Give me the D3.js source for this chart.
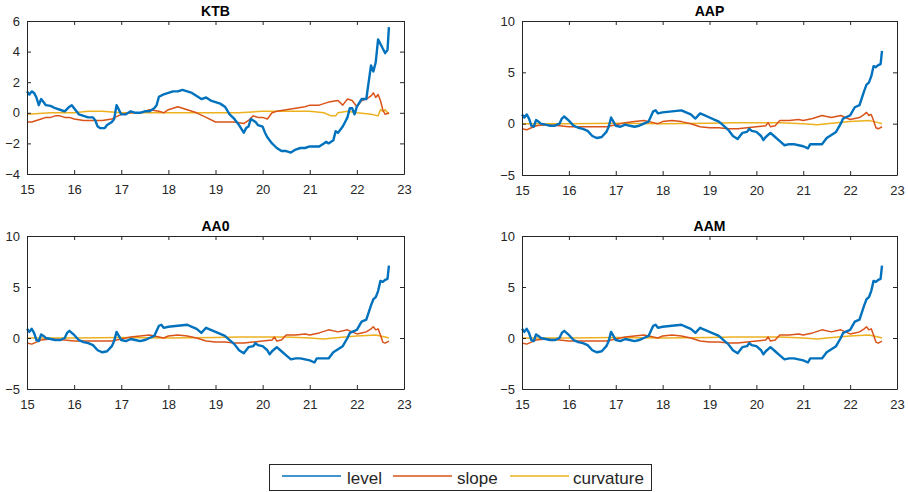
<!DOCTYPE html>
<html><head><meta charset="utf-8">
<script src="https://cdn.jsdelivr.net/npm/d3@7"></script>
<style>body{margin:0;background:#fff}svg{display:block}</style>
</head><body>
<svg id="c" width="908" height="492"></svg>
<script>
// ---------- DATA (year, value) ----------
const titles = ["KTB", "AAP", "AA0", "AAM"];
const seriesNames = ["level", "slope", "curvature"];
const xTicks = [15, 16, 17, 18, 19, 20, 21, 22, 23];
const ktbYTicks = [-4, -2, 0, 2, 4, 6];
const aaYTicks = [-5, 0, 5, 10];

const ktbLevel = [[15.0,1.4],[15.05,1.2],[15.1,1.4],[15.15,1.3],[15.2,1.0],[15.25,0.5],[15.3,0.9],[15.35,0.7],[15.4,0.5],[15.5,0.45],[15.6,0.3],[15.7,0.2],[15.8,0.1],[15.9,0.4],[15.95,0.5],[16.0,0.3],[16.05,0.1],[16.1,-0.1],[16.2,-0.2],[16.3,-0.3],[16.4,-0.3],[16.45,-0.5],[16.5,-0.9],[16.55,-1.0],[16.65,-1.0],[16.7,-0.8],[16.8,-0.6],[16.85,-0.4],[16.9,0.5],[16.95,0.2],[17.0,-0.1],[17.1,-0.1],[17.2,0.1],[17.3,0.0],[17.4,0.0],[17.5,0.1],[17.6,0.1],[17.7,0.3],[17.75,0.5],[17.8,1.05],[17.9,1.2],[18.0,1.3],[18.1,1.4],[18.2,1.4],[18.3,1.5],[18.4,1.4],[18.5,1.3],[18.6,1.1],[18.7,0.9],[18.8,1.0],[18.9,0.8],[19.0,0.7],[19.1,0.6],[19.2,0.4],[19.3,-0.1],[19.4,-0.4],[19.5,-0.8],[19.6,-1.3],[19.65,-1.0],[19.7,-0.9],[19.75,-0.4],[19.8,-0.5],[19.85,-0.6],[19.9,-0.8],[20.0,-0.9],[20.05,-1.3],[20.1,-1.6],[20.2,-2.0],[20.3,-2.3],[20.4,-2.5],[20.5,-2.5],[20.6,-2.6],[20.7,-2.4],[20.8,-2.3],[20.9,-2.3],[21.0,-2.2],[21.1,-2.2],[21.2,-2.2],[21.3,-2.0],[21.35,-1.9],[21.4,-2.0],[21.5,-1.8],[21.55,-1.2],[21.6,-1.3],[21.7,-0.9],[21.75,-0.6],[21.8,-0.3],[21.85,0.3],[21.9,0.3],[21.95,-0.1],[22.0,0.4],[22.1,0.9],[22.2,0.9],[22.25,2.0],[22.3,3.1],[22.35,2.7],[22.4,3.3],[22.45,4.8],[22.5,4.5],[22.55,4.2],[22.6,3.9],[22.65,4.1],[22.68,5.6]];
const ktbSlope = [[15.0,-0.6],[15.1,-0.6],[15.2,-0.5],[15.3,-0.4],[15.4,-0.3],[15.5,-0.3],[15.6,-0.2],[15.7,-0.2],[15.8,-0.3],[15.9,-0.3],[16.0,-0.4],[16.2,-0.5],[16.4,-0.5],[16.6,-0.5],[16.8,-0.4],[17.0,-0.1],[17.2,0.0],[17.4,0.0],[17.6,0.2],[17.8,0.1],[17.9,0.0],[18.0,0.2],[18.2,0.4],[18.4,0.2],[18.6,0.0],[18.8,-0.3],[19.0,-0.6],[19.2,-0.6],[19.4,-0.6],[19.6,-0.7],[19.7,-0.5],[19.8,-0.2],[19.9,-0.3],[20.0,-0.3],[20.1,-0.4],[20.2,0.0],[20.3,0.1],[20.5,0.2],[20.7,0.3],[20.9,0.4],[21.0,0.5],[21.2,0.5],[21.4,0.7],[21.6,0.8],[21.7,0.5],[21.8,0.9],[21.9,0.8],[22.0,0.4],[22.1,0.8],[22.2,0.9],[22.3,1.1],[22.35,1.3],[22.4,1.0],[22.45,1.2],[22.5,0.8],[22.55,0.2],[22.6,-0.1],[22.68,0.0]];
const ktbCurv = [[15.0,-0.1],[15.5,0.0],[16.0,0.0],[16.3,0.1],[16.6,0.1],[17.0,0.0],[17.5,0.0],[18.0,0.0],[18.5,0.0],[19.0,0.0],[19.5,0.0],[20.0,0.1],[20.5,0.1],[21.0,0.1],[21.3,0.0],[21.45,-0.2],[21.55,-0.2],[21.6,0.0],[21.8,0.1],[22.0,0.0],[22.3,-0.1],[22.45,-0.2],[22.5,0.2],[22.55,0.1],[22.6,0.2],[22.68,-0.1]];

const aapLevel = [[15.0,0.9],[15.05,0.6],[15.1,0.9],[15.15,0.5],[15.2,-0.2],[15.25,-0.3],[15.3,0.35],[15.35,0.2],[15.4,0.0],[15.5,-0.1],[15.6,-0.2],[15.7,-0.2],[15.8,0.0],[15.85,0.5],[15.9,0.7],[16.0,0.3],[16.1,-0.2],[16.2,-0.4],[16.3,-0.5],[16.4,-0.7],[16.5,-1.2],[16.6,-1.4],[16.7,-1.3],[16.8,-0.8],[16.85,-0.3],[16.9,0.6],[16.95,0.2],[17.0,-0.2],[17.1,-0.3],[17.2,-0.1],[17.3,-0.2],[17.4,-0.3],[17.5,-0.2],[17.6,0.0],[17.7,0.2],[17.8,1.2],[17.85,1.3],[17.9,1.0],[18.0,1.1],[18.2,1.2],[18.4,1.3],[18.5,1.1],[18.6,0.9],[18.7,0.5],[18.8,1.0],[18.9,0.8],[19.0,0.6],[19.1,0.4],[19.2,0.2],[19.3,-0.2],[19.4,-0.6],[19.5,-1.2],[19.6,-1.5],[19.7,-0.9],[19.8,-0.8],[19.85,-0.5],[19.9,-0.7],[20.0,-0.8],[20.1,-1.2],[20.15,-1.6],[20.2,-1.3],[20.3,-0.9],[20.4,-1.3],[20.5,-1.7],[20.6,-2.1],[20.7,-2.0],[20.8,-2.0],[20.9,-2.1],[21.0,-2.2],[21.1,-2.4],[21.15,-2.0],[21.2,-2.0],[21.3,-2.0],[21.4,-2.0],[21.5,-1.4],[21.6,-1.1],[21.7,-0.8],[21.8,0.0],[21.85,0.5],[21.9,0.6],[22.0,0.8],[22.1,1.6],[22.2,1.8],[22.3,3.2],[22.35,3.8],[22.4,4.0],[22.45,4.6],[22.5,5.6],[22.55,5.5],[22.6,5.7],[22.65,5.8],[22.68,7.1]];
const aapSlope = [[15.0,-0.5],[15.1,-0.6],[15.2,-0.4],[15.3,-0.2],[15.5,-0.1],[15.8,-0.2],[16.0,-0.3],[16.2,-0.3],[16.5,-0.3],[16.8,-0.3],[17.0,-0.1],[17.2,0.1],[17.4,0.2],[17.6,0.3],[17.8,0.1],[17.9,0.0],[18.0,0.2],[18.2,0.3],[18.4,0.2],[18.6,0.0],[18.8,-0.3],[19.0,-0.4],[19.2,-0.4],[19.4,-0.5],[19.6,-0.5],[19.8,-0.4],[20.0,-0.3],[20.2,-0.2],[20.25,0.1],[20.3,-0.3],[20.4,-0.2],[20.5,0.3],[20.7,0.3],[20.9,0.4],[21.0,0.3],[21.2,0.5],[21.4,0.8],[21.6,0.6],[21.8,0.8],[21.9,0.6],[22.0,0.4],[22.1,0.5],[22.2,0.6],[22.3,0.9],[22.35,1.1],[22.4,0.8],[22.45,0.9],[22.5,0.3],[22.55,-0.4],[22.6,-0.5],[22.68,-0.3]];
const aapCurv = [[15.0,0.0],[16.0,0.0],[17.0,0.05],[18.0,0.0],[19.0,0.05],[19.5,0.1],[20.0,0.1],[20.5,0.1],[21.0,0.0],[21.3,-0.1],[21.5,0.0],[22.0,0.2],[22.4,0.3],[22.5,0.2],[22.6,0.1],[22.68,0.0]];

const aa0Level = aapLevel, aa0Slope = aapSlope, aa0Curv = aapCurv;
const aamLevel = aapLevel, aamSlope = aapSlope, aamCurv = aapCurv;

// ---------- LAYOUT ----------
const colors = ["#0072BD", "#D95319", "#EDB120"];
const widths = [2.4, 1.5, 1.5];
const panels = [
  {title: titles[0], data: [ktbLevel, ktbSlope, ktbCurv], yDom: [-4, 6], yTicks: ktbYTicks, x0: 27, x1: 404, y0: 21, y1: 174},
  {title: titles[1], data: [aapLevel, aapSlope, aapCurv], yDom: [-5, 10], yTicks: aaYTicks, x0: 522, x1: 897, y0: 21, y1: 175},
  {title: titles[2], data: [aa0Level, aa0Slope, aa0Curv], yDom: [-5, 10], yTicks: aaYTicks, x0: 27, x1: 404, y0: 236, y1: 389},
  {title: titles[3], data: [aamLevel, aamSlope, aamCurv], yDom: [-5, 10], yTicks: aaYTicks, x0: 522, x1: 897, y0: 236, y1: 389}
];
const svg = d3.select("#c");
const axisCol = "#262626";
const font = "Liberation Sans, Arial, sans-serif";

panels.forEach(p => {
  const x = d3.scaleLinear().domain([15, 23]).range([p.x0, p.x1]);
  const y = d3.scaleLinear().domain(p.yDom).range([p.y1, p.y0]);
  const g = svg.append("g");
  const line = d3.line().x(d => x(d[0])).y(d => y(d[1]));
  [2, 1, 0].forEach(i => {
    g.append("path").datum(p.data[i]).attr("d", line)
      .attr("fill", "none").attr("stroke", colors[i]).attr("stroke-width", widths[i])
      .attr("stroke-linejoin", "round");
  });
  const bottom = g.append("g").attr("transform", `translate(0,${p.y1})`)
    .call(d3.axisBottom(x).tickValues(xTicks).tickFormat(d3.format("d")).tickSizeInner(-4).tickSizeOuter(0).tickPadding(11));
  const top = g.append("g").attr("transform", `translate(0,${p.y0})`)
    .call(d3.axisTop(x).tickValues(xTicks).tickFormat("").tickSizeInner(-4).tickSizeOuter(0));
  const left = g.append("g").attr("transform", `translate(${p.x0},0)`)
    .call(d3.axisLeft(y).tickValues(p.yTicks).tickFormat(d3.format("d")).tickSizeInner(-4).tickSizeOuter(0).tickPadding(7));
  const right = g.append("g").attr("transform", `translate(${p.x1},0)`)
    .call(d3.axisRight(y).tickValues(p.yTicks).tickFormat("").tickSizeInner(-4).tickSizeOuter(0));
  [bottom, top, left, right].forEach(a => {
    a.selectAll("path").attr("stroke", axisCol).attr("stroke-width", 1);
    a.selectAll("line").attr("stroke", axisCol).attr("stroke-width", 1);
    a.selectAll("text").attr("fill", axisCol).style("font-family", font).style("font-size", "13px");
  });
  g.append("text").attr("x", (p.x0 + p.x1) / 2).attr("y", p.y0 - 5)
    .attr("text-anchor", "middle").style("font-family", font).style("font-size", "14px")
    .style("font-weight", "bold").attr("fill", "#000").text(p.title);
});

// ---------- LEGEND ----------
const lg = svg.append("g");
lg.append("rect").attr("x", 269.5).attr("y", 464.5).attr("width", 382).attr("height", 26)
  .attr("fill", "#fff").attr("stroke", axisCol).attr("stroke-width", 1);
const legLineX = [282, 393, 510];
const legTextX = [347, 457, 573];
seriesNames.forEach((n, i) => {
  lg.append("line").attr("x1", legLineX[i]).attr("x2", legLineX[i] + 59).attr("y1", 476).attr("y2", 476)
    .attr("stroke", colors[i]).attr("stroke-width", 1.5);
  lg.append("text").attr("x", legTextX[i]).attr("y", 484).style("font-family", font)
    .style("font-size", "17px").attr("fill", axisCol).text(n);
});
</script>
</body></html>
